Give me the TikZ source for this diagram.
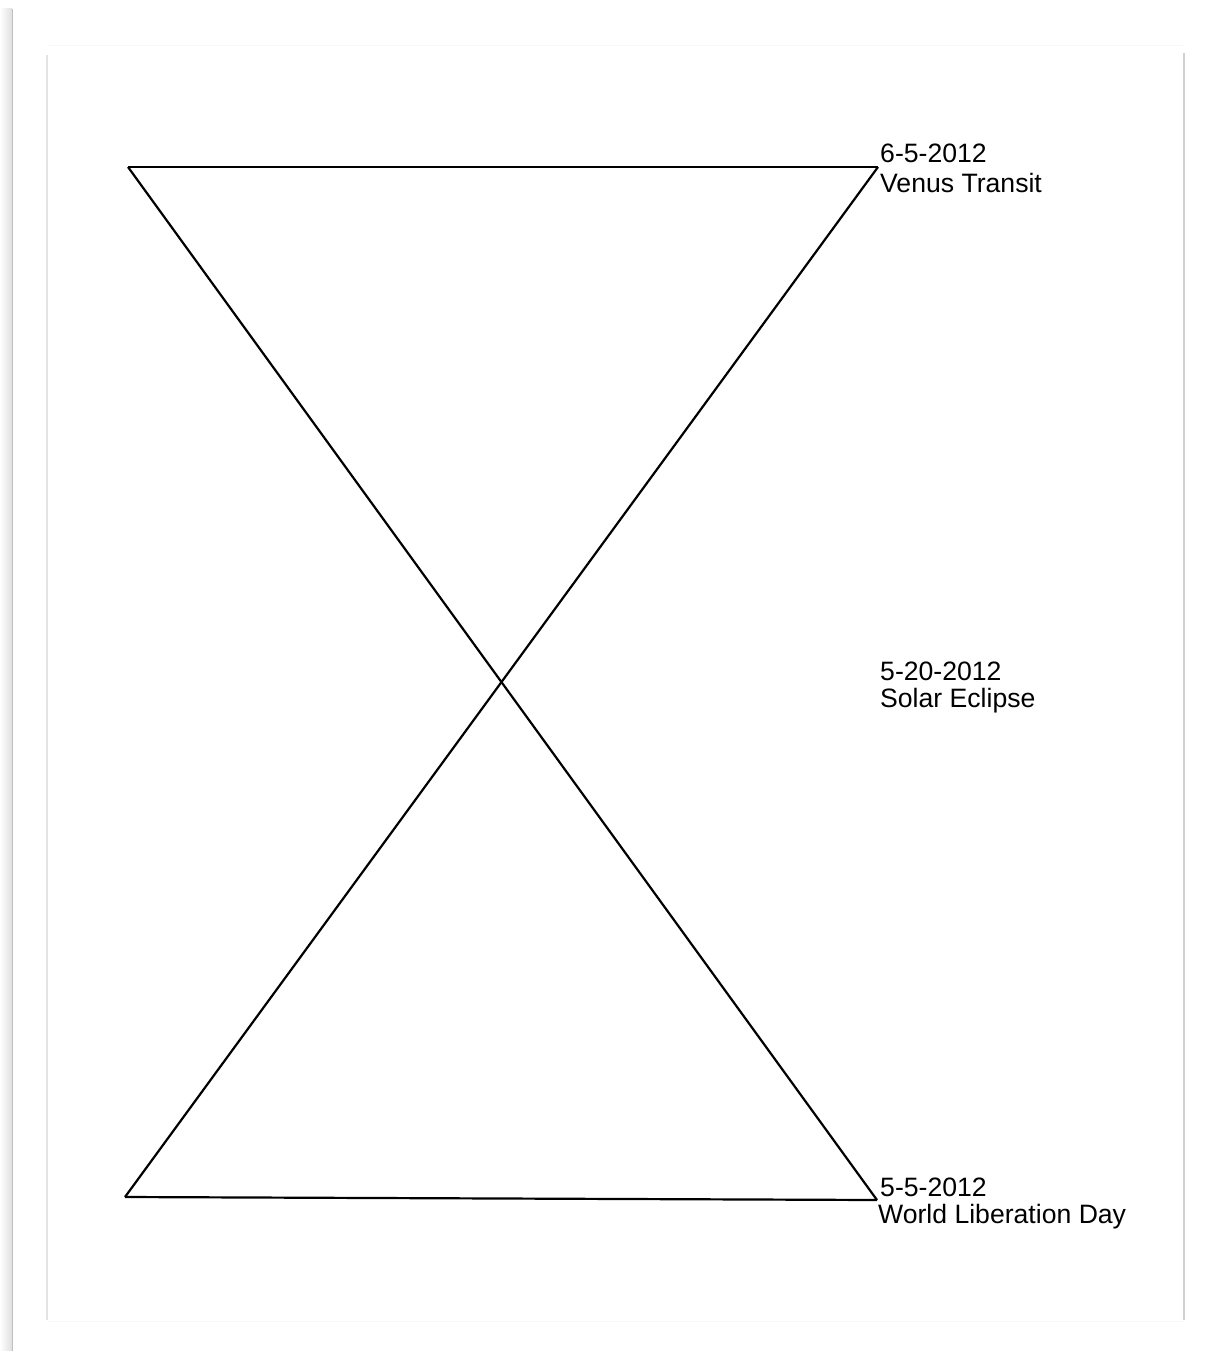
\documentclass[tikz,border=0pt]{standalone}
\usepackage{fontspec}
\setmainfont{Liberation Sans}
\begin{document}
\begin{tikzpicture}[x=1pt,y=-1pt,
    event/.style={anchor=base west,inner sep=0pt,font=\fontsize{26.6}{28}\selectfont},
    edge/.style={line width=2.2pt,line join=round}]
\useasboundingbox (0,0) rectangle (1208,1351);
% Page
    \shade[left color=white,right color=gray!25] (0,9) rectangle (12,1351);
    \draw[gray!50,line width=1.5pt] (12.5,9) -- (12.5,1351);
    \draw[gray!6,line width=1pt] (47,46) -- (1184,46);
    \draw[gray!6,line width=1pt] (47,1321) -- (1184,1321);
    \draw[gray!22,line width=1.5pt] (47,55) -- (47,1320);
    \draw[gray!35,line width=1.5pt] (1184,53) -- (1184,1320);
% Corners
    \coordinate (tl) at (128,167);
    \coordinate (tr) at (878,167);
    \coordinate (bl) at (125,1197);
    \coordinate (br) at (877,1200);
% Hourglass
    \draw[edge] (tl) -- (tr);
    \draw[edge] (tl) -- (br);
    \draw[edge] (tr) -- (bl);
    \draw[edge] (bl) -- (br);
% Lables
    \node[event] (venusdate) at (880,163) {6-5-2012};
    \node[event] (venusname) at (880,193) {Venus Transit};
    \node[event] (eclipsedate) at (880,680) {5-20-2012};
    \node[event] (eclipsename) at (880,707) {Solar Eclipse};
    \node[event] (wldate) at (880,1196) {5-5-2012};
    \node[event] (wlname) at (878,1223) {World Liberation Day};
\end{tikzpicture}
\end{document}
